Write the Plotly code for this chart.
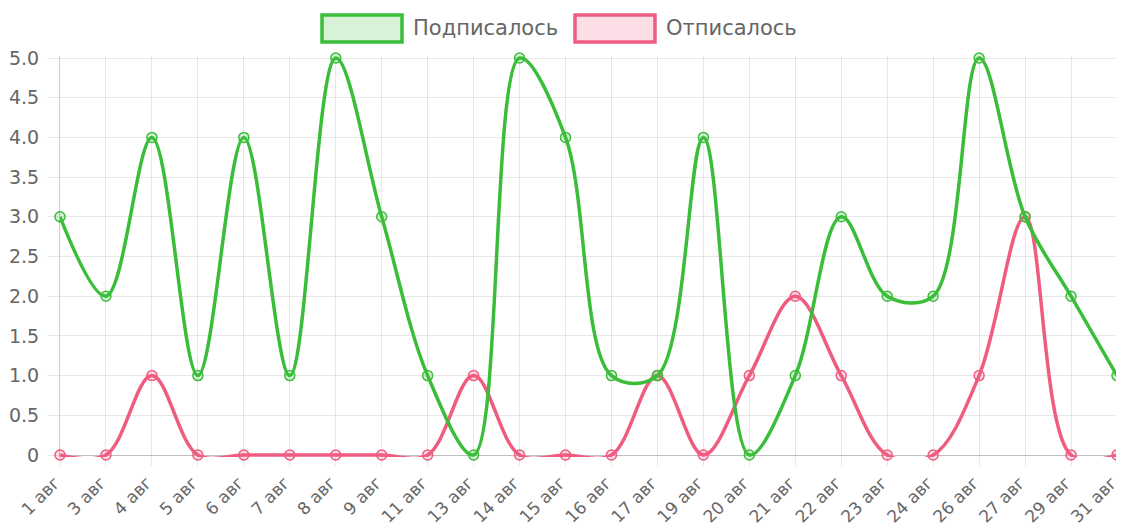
import plotly.graph_objects as go

categories = ["1 авг", "3 авг", "4 авг", "5 авг", "6 авг", "7 авг", "8 авг", "9 авг",
              "11 авг", "13 авг", "14 авг", "15 авг", "16 авг", "17 авг", "19 авг", "20 авг",
              "21 авг", "22 авг", "23 авг", "24 авг", "26 авг", "27 авг", "29 авг", "31 авг"]
subscribed = [3, 2, 4, 1, 4, 1, 5, 3, 1, 0, 5, 4, 1, 1, 4, 0, 1, 3, 2, 2, 5, 3, 2, 1]
unsubscribed = [0, 0, 1, 0, 0, 0, 0, 0, 0, 1, 0, 0, 0, 1, 0, 1, 2, 1, 0, 0, 1, 3, 0, 0]
series_names = ["Подписалось", "Отписалось"]
y_tickvals = [0, 0.5, 1, 1.5, 2, 2.5, 3, 3.5, 4, 4.5, 5]
y_ticktext = ["0", "0.5", "1.0", "1.5", "2.0", "2.5", "3.0", "3.5", "4.0", "4.5", "5.0"]

GREEN = "rgb(58,190,58)"
GREEN_FILL = "rgba(58,190,58,0.2)"
PINK = "rgb(240,92,128)"
PINK_FILL = "rgba(240,92,128,0.2)"
FONT = "DejaVu Sans"
TXT = "#666666"
GRID = "rgba(0,0,0,0.09)"

# page body has an 8px margin -> figure drawn with offset (8, 8)
OFF = 8
W, H = 1124 - OFF, 529 - OFF
# target screen coords: plot x 60..1117, y=5 at 58, y=0 at 455
X0, X1, YTOP, YBOT = 60 - OFF, 1117 - OFF, 58 - OFF, 455 - OFF
PAD = 2
L, R, T, B = X0, W - X1, YTOP - PAD, H - YBOT - PAD
pw, ph = W - L - R, H - T - B
unit = (YBOT - YTOP) / 5.0
ypad = PAD / unit


def px2x(px):
    return (px - OFF - L) / pw


def py2y(py):
    return (H - B - (py - OFF)) / ph


fig = go.Figure()
for name, vals, col, fillc in [(series_names[1], unsubscribed, PINK, PINK_FILL),
                               (series_names[0], subscribed, GREEN, GREEN_FILL)]:
    fig.add_trace(go.Scatter(
        x=categories, y=vals, name=name, mode="lines+markers",
        line=dict(color=col, width=3.5, shape="spline", smoothing=1.0),
        marker=dict(size=10, color=fillc, line=dict(color=col, width=1.5)),
        cliponaxis=False, showlegend=False))

# custom legend boxes (Chart.js style), screen pixel positions
shapes = []
annotations = []
legend_items = [(series_names[0], GREEN, GREEN_FILL, 322, 402, 411),
                (series_names[1], PINK, PINK_FILL, 575, 655, 664)]
for name, col, fillc, bx0, bx1, tx in legend_items:
    shapes.append(dict(type="rect", xref="paper", yref="paper",
                       x0=px2x(bx0), x1=px2x(bx1), y0=py2y(42), y1=py2y(15),
                       line=dict(color=col, width=3.5), fillcolor=fillc, layer="above"))
    annotations.append(dict(xref="paper", yref="paper", x=px2x(tx), y=py2y(28),
                            xanchor="left", yanchor="middle", text=name, showarrow=False,
                            font=dict(family=FONT, size=21, color=TXT)))

fig.update_layout(
    width=W, height=H,
    margin=dict(l=L, r=R, t=T, b=B, autoexpand=False),
    paper_bgcolor="white", plot_bgcolor="white",
    font=dict(family=FONT, size=19, color=TXT),
    shapes=shapes, annotations=annotations,
    showlegend=False,
)
fig.update_xaxes(
    type="category", range=[0, len(categories) - 1], automargin=False,
    showgrid=True, gridcolor=GRID, gridwidth=1,
    showline=False,
    ticks="outside", ticklen=8, tickcolor=GRID,
    tickangle=-45, ticklabelshift=-5,
    tickfont=dict(family=FONT, size=17, color=TXT),
    zeroline=False,
)
fig.update_yaxes(
    range=[-ypad, 5 + ypad], tickvals=y_tickvals, ticktext=y_ticktext, automargin=False,
    showgrid=True, gridcolor=GRID, gridwidth=1,
    showline=True, linecolor="rgba(0,0,0,0.2)", linewidth=1,
    ticks="outside", ticklen=12, tickcolor=GRID, ticklabelstandoff=4,
    tickfont=dict(family=FONT, size=19, color=TXT),
    zeroline=True, zerolinecolor="rgba(0,0,0,0.25)", zerolinewidth=1,
)

fig.write_html("out.html")
